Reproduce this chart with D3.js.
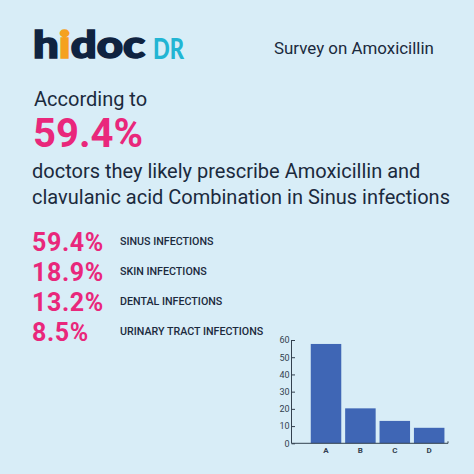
<!DOCTYPE html>
<html>
<head>
<meta charset="utf-8">
<script src="https://cdn.jsdelivr.net/npm/d3@7"></script>
<style>
html, body { margin: 0; padding: 0; background: #d8edf7; }
svg { display: block; font-family: Roboto, sans-serif; }
</style>
</head>
<body>
<svg width="474" height="474"></svg>
<script>
// survey numbers
var percentLabels = ['59.4%', '18.9%', '13.2%', '8.5%'];
var infectionNames = ['SINUS INFECTIONS', 'SKIN INFECTIONS', 'DENTAL INFECTIONS', 'URINARY TRACT INFECTIONS'];
var barCategories = ['A', 'B', 'C', 'D'];
var barValues = [57.7, 20.3, 13, 9];
var yTicks = [0, 10, 20, 30, 40, 50, 60];

var svg = d3.select('svg');
var pink = '#e9277b';
var dark = '#1b2a3d';

// logo
var logo = svg.append('text').attr('x', 33).attr('y', 58)
    .attr('font-family', 'Lato, sans-serif').attr('font-weight', 900).attr('font-size', 37)
    .attr('textLength', 112).attr('lengthAdjust', 'spacingAndGlyphs')
    .attr('fill', '#0f2340').attr('stroke', '#0f2340').attr('stroke-width', 1.6);
logo.append('tspan').text('h');
logo.append('tspan').text('i').attr('fill', '#f5a11f').attr('stroke', '#f5a11f');
logo.append('tspan').text('doc');
svg.append('text').attr('x', 153).attr('y', 58.5)
    .attr('font-family', 'Lato, sans-serif').attr('font-weight', 900).attr('font-size', 28)
    .attr('textLength', 31).attr('lengthAdjust', 'spacingAndGlyphs')
    .attr('fill', '#22b5d3').text('DR');

svg.append('text').attr('x', 274).attr('y', 54).attr('font-size', 16.9).attr('fill', dark)
    .text('Survey on Amoxicillin');

// headline
svg.append('text').attr('x', 34).attr('y', 106).attr('font-size', 20).attr('fill', dark).text('According to');
svg.append('text').attr('x', 33).attr('y', 147).attr('font-size', 40).attr('font-weight', 700).attr('fill', pink)
    .text(percentLabels[0]);
svg.append('text').attr('x', 32).attr('y', 178).attr('font-size', 20).attr('fill', dark)
    .text('doctors they likely prescribe Amoxicillin and');
svg.append('text').attr('x', 32).attr('y', 204).attr('font-size', 20).attr('fill', dark)
    .text('clavulanic acid Combination in Sinus infections');

// list of percentages
var rowY = d3.scalePoint().domain(infectionNames).range([250.5, 341]);
var rows = svg.selectAll('.row').data(infectionNames).enter().append('g').attr('class', 'row')
    .attr('transform', function (d) { return 'translate(0,' + rowY(d) + ')'; });
rows.append('text').attr('x', 32).attr('font-size', 25).attr('font-weight', 700).attr('fill', pink)
    .attr('letter-spacing', 0.6)
    .text(function (d, i) { return percentLabels[i]; });
rows.append('text').attr('x', 120).attr('y', -6).attr('font-size', 10.7).attr('font-weight', 500).attr('fill', dark)
    .text(function (d) { return d; });

// bar chart
var x = d3.scaleBand().domain(barCategories).range([308.8, 446.4]).paddingInner(0.113).paddingOuter(0.057);
var y = d3.scaleLinear().domain([0, 60]).range([443.3, 340]);

svg.selectAll('.bar').data(barValues).enter().append('rect').attr('class', 'bar')
    .attr('x', function (d, i) { return x(barCategories[i]); })
    .attr('y', function (d) { return y(d); })
    .attr('width', x.bandwidth())
    .attr('height', function (d) { return y(0) - y(d); })
    .attr('fill', '#3f66b5');

var yAxis = svg.append('g').attr('transform', 'translate(291.5,0)')
    .call(d3.axisRight(y).tickValues(yTicks).tickSize(3.5).tickPadding(-13));
yAxis.selectAll('text').attr('text-anchor', 'end').attr('x', -2).attr('font-size', 9).attr('font-family', 'Roboto, sans-serif').attr('fill', '#33414f');
yAxis.selectAll('line').attr('stroke', '#33414f');
yAxis.select('.domain').attr('stroke', '#33414f').attr('d', 'M0,' + y(60) + 'V' + y(0));

var xAxis = svg.append('g').attr('transform', 'translate(0,' + y(0) + ')')
    .call(d3.axisBottom(x).tickSize(0).tickPadding(4));
xAxis.selectAll('text').attr('font-size', 8).attr('font-weight', 700).attr('font-family', 'Roboto, sans-serif').attr('fill', '#33414f');
xAxis.select('.domain').attr('stroke', '#33414f').attr('d', 'M291.5,0H448V-2');
</script>
</body>
</html>
